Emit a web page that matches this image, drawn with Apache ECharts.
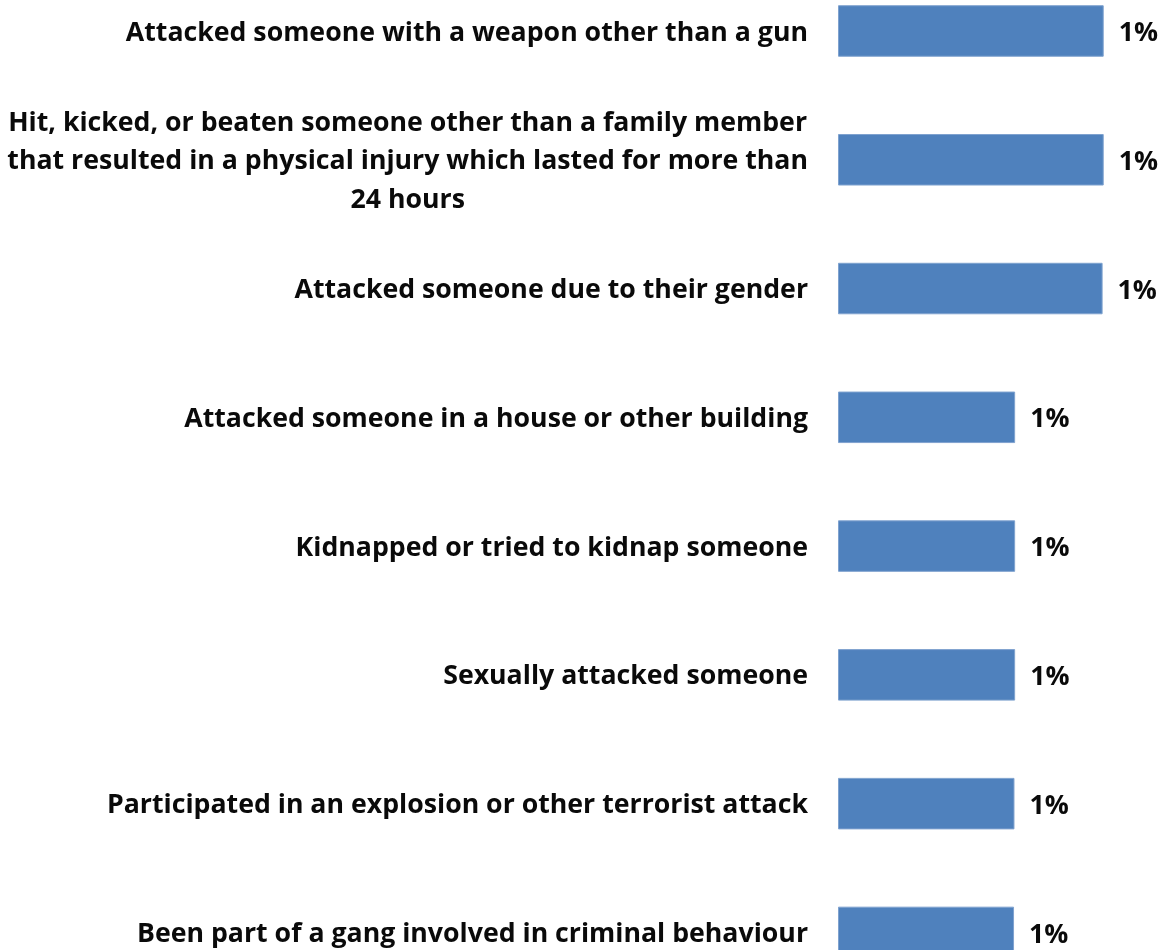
<!DOCTYPE html>
<html><head><meta charset="utf-8">
<script src="https://cdn.jsdelivr.net/npm/echarts@6/dist/echarts.min.js"></script>
<style>html,body{margin:0;padding:0;background:#fff}#c{width:1162px;height:950px}</style>
</head><body><div id="c"></div>
<script>
var categories = [
  'Attacked someone with a weapon other than a gun',
  'Hit, kicked, or beaten someone other than a family member\nthat resulted in a physical injury which lasted for more than\n24 hours',
  'Attacked someone due to their gender',
  'Attacked someone in a house or other building',
  'Kidnapped or tried to kidnap someone',
  'Sexually attacked someone',
  'Participated in an explosion or other terrorist attack',
  'Been part of a gang involved in criminal behaviour'
];
var values = [1.2, 1.2, 1.195, 0.8, 0.8, 0.8, 0.797, 0.795];

var FONT = 'Open Sans';
var FS = 26.7;
var LH = 38.5;
var measureCtx = document.createElement('canvas').getContext('2d');
measureCtx.font = 'bold ' + FS + 'px "' + FONT + '"';

var chart = echarts.init(document.getElementById('c'), null, {renderer: 'canvas'});
chart.setOption({
  animation: false,
  backgroundColor: '#ffffff',
  grid: {left: 838, right: 14, top: -33.4, bottom: -46.8, containLabel: false, outerBoundsMode: 'none'},
  xAxis: {type: 'value', min: 0, max: 1.4, show: false},
  yAxis: {
    type: 'category', inverse: true, data: categories,
    axisLine: {show: false}, axisTick: {show: false}, splitLine: {show: false},
    axisLabel: {
      margin: 30, align: 'right', padding: [4, 0, 0, 0],
      fontFamily: FONT, fontWeight: 'bold', fontSize: FS, color: '#0a0a0a',
      lineHeight: LH,
      formatter: function (v) {
        var lines = v.split('\n');
        var widths = lines.map(function (l) { return measureCtx.measureText(l).width; });
        var maxW = Math.max.apply(null, widths);
        return lines.map(function (l, i) {
          var pad = Math.round((maxW - widths[i]) / 2);
          return '{p' + Math.min(pad, 400) + '|' + l + '}';
        }).join('\n');
      },
      rich: (function () {
        var r = {};
        for (var k = 0; k <= 400; k++) {
          r['p' + k] = {fontFamily: FONT, fontWeight: 'bold', fontSize: FS, color: '#0a0a0a', lineHeight: LH, padding: [0, k, 0, 0]};
        }
        return r;
      })()
    }
  },
  series: [{
    type: 'bar', data: values, barCategoryGap: '60%',
    itemStyle: {color: '#4F81BD', borderColor: '#7FA2CF', borderWidth: 1},
    label: {
      show: true, position: 'right', distance: 15, offset: [0, 2.5],
      fontFamily: FONT, fontWeight: 'bold', fontSize: FS, color: '#0a0a0a',
      formatter: function (p) { return Math.round(p.value) + '%'; }
    }
  }]
});
</script></body></html>
